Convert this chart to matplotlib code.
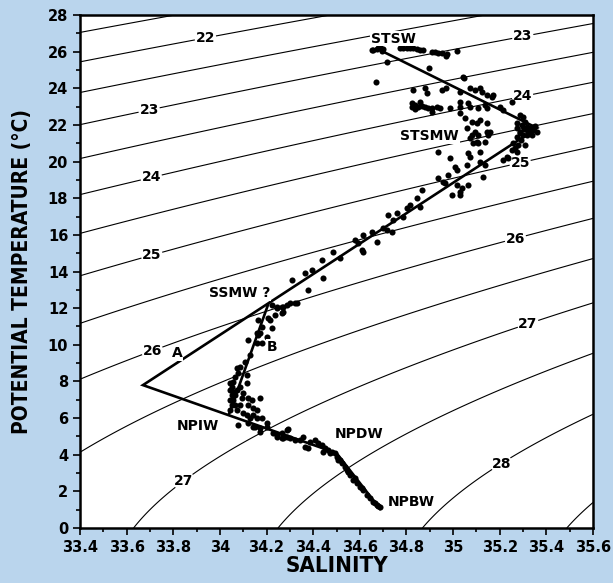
import numpy as np
import matplotlib
matplotlib.use("Agg")
import matplotlib.pyplot as plt
from matplotlib.ticker import MultipleLocator

# ---- data ----
sal = [
    # STSW
    34.652, 34.674, 34.687, 34.695, 34.657, 34.699, 34.678, 34.717, 34.669,
    34.772, 34.785, 34.802, 34.815, 34.828, 34.845, 34.858, 34.871, 34.910,
    34.922, 34.935, 34.952, 34.970, 34.974, 35.017, 34.897, 35.043, 35.047,
    # upper cluster
    34.828, 34.880, 34.888, 34.952, 34.970, 35.030, 35.073, 35.094, 35.115,
    35.124, 35.145, 35.167, 35.171, 34.824, 34.837, 34.850, 34.858, 34.867,
    34.880, 34.892, 34.910, 34.931, 34.944, 34.910, 34.824, 34.837, 34.987,
    35.030, 35.030, 35.064, 35.073, 35.107, 35.137, 35.145, 35.201, 35.214,
    35.253, 35.030, 35.051, 35.081, 35.103, 35.115, 35.145,
    # STSMW vertex
    35.287, 35.300, 35.308, 35.274, 35.296, 35.317, 35.330, 35.343, 35.360,
    35.338, 35.317, 35.287, 35.274, 35.300, 35.287, 35.274, 35.257, 35.278,
    35.308, 35.253, 35.274, 35.231, 35.214, 35.235, 35.343, 35.317,
    35.350, 35.325, 35.305, 35.290, 35.265,
    # STSMW middle
    35.060, 35.094, 35.107, 35.145, 35.103, 35.137, 35.150, 35.081, 35.073,
    35.085, 35.107, 35.115, 35.064, 35.073, 35.060, 35.158, 34.935, 34.987,
    35.008, 35.017, 34.978, 34.935, 34.957, 34.965, 35.017, 35.038, 35.030,
    34.995, 35.030, 35.064, 35.128, 35.137, 35.115,
    # thermocline
    34.867, 34.845, 34.815, 34.802, 34.858, 34.759, 34.721, 34.742, 34.785,
    34.699, 34.717, 34.738, 34.652, 34.614, 34.579, 34.592, 34.609, 34.614,
    34.674, 34.485, 34.438, 34.395, 34.365, 34.309, 34.442, 34.378, 34.515,
    34.331, 34.288, 34.271, 34.245,
    # SSMW / B
    34.223, 34.245, 34.266, 34.301, 34.322, 34.266, 34.271, 34.236, 34.206,
    34.215, 34.163, 34.181, 34.223, 34.159, 34.172, 34.163, 34.181, 34.159,
    34.120, 34.202, 34.129, 34.108, 34.086, 34.073, 34.078, 34.065, 34.056,
    34.052, 34.043, 34.052, 34.056, 34.052, 34.043, 34.073, 34.086, 34.099,
    34.095, 34.086, 34.116, 34.116, 34.120, 34.138, 34.172, 34.120, 34.142,
    34.159, 34.099, 34.116, 34.142, 34.129, 34.159, 34.181, 34.078, 34.120,
    34.150, 34.202, 34.172, 34.228, 34.245, 34.292, 34.266, 34.301,
    34.065, 34.065, 34.043, 34.073, 34.056, 34.043,
    # NPIW - NPDW - NPBW
    34.142, 34.172, 34.202, 34.245, 34.266, 34.288, 34.271, 34.288, 34.322,
    34.343, 34.356, 34.365, 34.378, 34.386, 34.408, 34.421, 34.438, 34.451,
    34.464, 34.481, 34.494, 34.502, 34.506, 34.524, 34.536, 34.549, 34.558,
    34.571, 34.588, 34.601, 34.614, 34.631, 34.644, 34.657, 34.674, 34.687,
    34.442, 34.472, 34.515, 34.545, 34.579, 34.609, 34.665, 34.678,
]
temp = [
    26.09, 26.14, 26.25, 26.04, 26.09, 26.14, 26.20, 25.43, 24.34,
    26.20, 26.20, 26.20, 26.20, 26.20, 26.14, 26.09, 26.09, 25.98,
    25.98, 25.93, 25.93, 25.76, 25.87, 26.04, 25.11, 24.62, 24.56,
    23.91, 24.02, 23.74, 23.91, 24.02, 23.80, 24.02, 23.91, 24.02,
    23.80, 23.63, 23.52, 23.63, 23.20, 23.09, 22.98, 23.25, 23.03,
    22.98, 22.92, 22.92, 22.98, 22.92, 22.71, 22.98, 22.87, 22.92,
    23.25, 22.98, 23.20, 22.98, 22.92, 23.09, 22.92, 22.98, 22.81,
    23.25, 22.65, 22.38, 22.16, 22.10, 22.27, 22.10,
    22.54, 22.43, 22.16, 22.10, 22.00, 21.89, 21.83, 21.72, 21.61,
    21.45, 21.45, 21.61, 21.83, 21.45, 21.56, 21.34, 21.01, 20.90,
    20.90, 20.63, 20.52, 20.25, 20.09, 20.19, 21.89, 21.72,
    21.95, 21.65, 21.80, 21.20, 20.75,
    21.83, 21.61, 21.45, 21.61, 21.07, 21.07, 21.45, 21.45, 21.29,
    21.01, 21.01, 20.52, 20.47, 20.25, 19.81, 21.61, 20.52, 20.19,
    19.70, 19.54, 19.27, 19.10, 18.88, 18.83, 18.72, 18.56, 18.34,
    18.18, 18.18, 18.72, 19.16, 19.81, 19.98,
    18.45, 18.01, 17.63, 17.47, 17.52, 17.19, 17.08, 16.81, 16.97,
    16.37, 16.26, 16.16, 16.16, 15.99, 15.72, 15.56, 15.17, 15.06,
    15.61, 15.06, 14.63, 14.08, 13.92, 13.54, 13.65, 12.99, 14.74,
    12.28, 12.17, 12.06, 12.06,
    12.17, 12.01, 12.06, 12.28, 12.28, 11.73, 11.79, 11.63, 11.46,
    11.35, 11.35, 10.97, 10.92, 10.64, 10.64, 10.53, 10.10, 10.10,
    10.26, 10.42, 9.44, 9.06, 8.79, 8.73, 8.46, 8.24, 7.97,
    7.70, 7.53, 7.26, 6.99, 6.71, 6.44, 7.53, 7.70, 7.37,
    7.10, 6.71, 8.35, 7.91, 7.10, 6.99, 7.10, 6.71, 6.55,
    6.44, 6.28, 6.17, 6.17, 6.00, 6.00, 6.00, 5.62, 5.73,
    5.51, 5.73, 5.24, 5.19, 4.97, 5.40, 4.91, 4.91,
    7.26, 6.71, 6.99, 6.44, 7.42, 7.91,
    5.51, 5.46, 5.51, 5.08, 5.19, 5.35, 4.91, 4.97, 4.80,
    4.80, 4.97, 4.42, 4.37, 4.69, 4.80, 4.64, 4.53, 4.37,
    4.26, 4.15, 4.09, 3.88, 3.71, 3.55, 3.33, 3.06, 2.89,
    2.62, 2.46, 2.24, 2.07, 1.80, 1.64, 1.42, 1.26, 1.15,
    4.15, 4.09, 3.71, 3.17, 2.73, 2.18, 1.37, 1.20,
]

# mixing lines (end members)
mix_s = [34.695, 35.36, 33.67, 34.50, 34.687]
mix_t = [26.03, 21.83, 7.80, 4.09, 1.04]
b_s = [34.206, 34.039]
b_t = [12.17, 6.22]

int_levels = [22, 23, 24, 25, 26, 27, 28]
half_levels = [21.5, 22.5, 23.5, 24.5, 25.5, 26.5, 27.5, 28.5]
label_pos = [(33.94, 26.6), (33.70, 22.6), (33.71, 18.9), (33.71, 14.8),
             (33.71, 9.66), (33.85, 2.5), (35.30, 26.74), (35.30, 23.42),
             (35.29, 19.8), (35.27, 15.66), (35.32, 11.19), (35.21, 3.44)]

water_names = ["STSW", "STSMW", "SSMW ?", "A", "B", "NPIW", "NPDW", "NPBW"]
water_s = [34.742, 34.90, 34.086, 33.816, 34.223, 33.906, 34.597, 34.82]
water_t = [26.7, 21.39, 12.83, 9.55, 9.88, 5.57, 5.13, 1.42]


def sigma_theta(S, T):
    # UNESCO EOS-80 at surface pressure
    rw = (999.842594 + 6.793952e-2 * T - 9.095290e-3 * T**2 + 1.001685e-4 * T**3
          - 1.120083e-6 * T**4 + 6.536332e-9 * T**5)
    a = 0.824493 - 4.0899e-3 * T + 7.6438e-5 * T**2 - 8.2467e-7 * T**3 + 5.3875e-9 * T**4
    b = -5.72466e-3 + 1.0227e-4 * T - 1.6546e-6 * T**2
    return rw + a * S + b * S**1.5 + 4.8314e-4 * S**2 - 1000.0


bg = "#bad5ed"
fig = plt.figure(figsize=(6.13, 5.83), dpi=100, facecolor=bg)
ax = fig.add_axes([0.1305, 0.0943, 0.8369, 0.88])
ax.set_facecolor("white")

sg, tg = np.meshgrid(np.linspace(33.4, 35.6, 300), np.linspace(0, 28, 300))
sig = sigma_theta(sg, tg)
ax.contour(sg, tg, sig, levels=half_levels, colors="black", linewidths=0.8)
cs = ax.contour(sg, tg, sig, levels=int_levels, colors="black", linewidths=0.8)
labels = ax.clabel(cs, manual=label_pos, fmt="%d", fontsize=10,
                   inline=True, inline_spacing=2)
for t in labels:
    t.set_rotation(0)
    t.set_fontweight("bold")

ax.plot(mix_s, mix_t, color="black", lw=1.9, solid_joinstyle="miter", zorder=3)
ax.plot(b_s, b_t, color="black", lw=1.9, zorder=3)
ax.plot(sal, temp, "o", color="black", ms=4.4, mew=0, zorder=4)

for name, s, t in zip(water_names, water_s, water_t):
    ax.text(s, t, name, ha="center", va="center", fontsize=10,
            fontweight="bold",
            bbox=dict(facecolor="white", edgecolor="none", pad=0.5), zorder=5)

ax.set_xlim(33.4, 35.6)
ax.set_ylim(0, 28)
ax.set_xticks(np.arange(33.4, 35.61, 0.2))
ax.set_xticklabels(["33.4", "33.6", "33.8", "34", "34.2", "34.4", "34.6",
                    "34.8", "35", "35.2", "35.4", "35.6"])
ax.xaxis.set_minor_locator(MultipleLocator(0.1))
ax.yaxis.set_major_locator(MultipleLocator(2))
ax.yaxis.set_minor_locator(MultipleLocator(1))
ax.tick_params(which="major", length=5, width=1.2, labelsize=10.5)
ax.tick_params(which="minor", length=3, width=1.2)
for lab in ax.get_xticklabels() + ax.get_yticklabels():
    lab.set_fontweight("bold")
for sp in ax.spines.values():
    sp.set_linewidth(1.8)

ax.set_xlabel("SALINITY", fontsize=16, fontweight="bold", fontstretch="condensed",
              labelpad=1)
ax.set_ylabel("POTENTIAL TEMPERATURE (°C)", fontsize=15, fontweight="bold",
              fontstretch="condensed")
ax.yaxis.set_label_coords(-0.094, 0.5)

fig.savefig("out.png", dpi=100, facecolor=bg)
